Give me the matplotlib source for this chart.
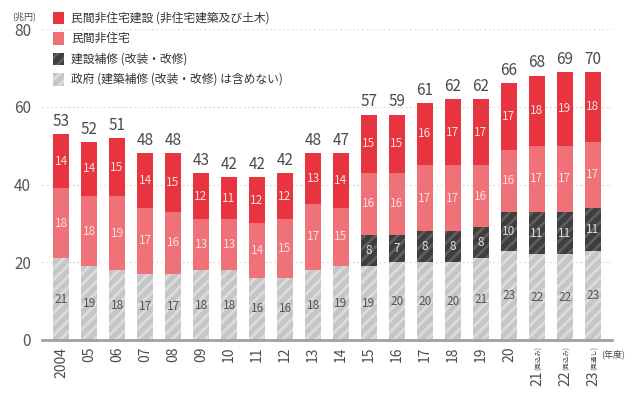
import matplotlib
matplotlib.use("Agg")
import matplotlib.pyplot as plt
from matplotlib.patches import Rectangle

plt.rcParams['font.family'] = ['Noto Sans CJK JP', 'DejaVu Sans']
plt.rcParams['hatch.linewidth'] = 2.0

years = ["2004", "05", "06", "07", "08", "09", "10", "11", "12", "13",
         "14", "15", "16", "17", "18", "19", "20", "21", "22", "23"]
year_notes = ["", "", "", "", "", "", "", "", "", "",
              "", "", "", "", "", "", "", "(見込み)", "(見込み)", "(見通し)"]
gov = [21, 19, 18, 17, 17, 18, 18, 16, 16, 18, 19, 19, 20, 20, 20, 21, 23, 22, 22, 23]
repair = [0, 0, 0, 0, 0, 0, 0, 0, 0, 0, 0, 8, 7, 8, 8, 8, 10, 11, 11, 11]
residential = [18, 18, 19, 17, 16, 13, 13, 14, 15, 17, 15, 16, 16, 17, 17, 16, 16, 17, 17, 17]
nonres = [14, 14, 15, 14, 15, 12, 11, 12, 12, 13, 14, 15, 15, 16, 17, 17, 17, 18, 19, 18]
total_labels = [53, 52, 51, 48, 48, 43, 42, 42, 42, 48, 47, 57, 59, 61, 62, 62, 66, 68, 69, 70]

legend_labels = ["民間非住宅建設 (非住宅建築及び土木)", "民間非住宅",
                 "建設補修 (改装・改修)", "政府 (建築補修 (改装・改修) は含めない)"]

C_NONRES = "#E8343F"
C_RES = "#F07178"
C_REP = "#3E3E3E"
C_REP_H = "#5E5E5E"
C_GOV = "#C6C6C6"
C_GOV_H = "#DCDCDC"
C_TXT = "#4A4A4A"

W, H = 636, 400
fig = plt.figure(figsize=(W / 100, H / 100), dpi=100)
ax = fig.add_axes([42 / W, 1 - 340 / H, (612 - 42) / W, (340 - 29) / H])

x = list(range(len(years)))
bw = 0.57
b1 = [g + r for g, r in zip(gov, repair)]
b2 = [a + r for a, r in zip(b1, residential)]

ax.bar(x, gov, bw, color=C_GOV, edgecolor=C_GOV_H, linewidth=0, hatch='///', zorder=2)
ax.bar(x, repair, bw, bottom=gov, color=C_REP, edgecolor=C_REP_H, linewidth=0, hatch='///', zorder=2)
ax.bar(x, residential, bw, bottom=b1, color=C_RES, linewidth=0, zorder=2)
ax.bar(x, nonres, bw, bottom=b2, color=C_NONRES, linewidth=0, zorder=2)

for i in x:
    ax.text(i, gov[i] / 2, str(gov[i]), ha='center', va='center', fontsize=8.5, color="#555555", zorder=3)
    if repair[i] > 0:
        ax.text(i, gov[i] + repair[i] / 2, str(repair[i]), ha='center', va='center', fontsize=8.5, color="#DDDDDD", zorder=3)
    ax.text(i, b1[i] + residential[i] / 2, str(residential[i]), ha='center', va='center', fontsize=8.5, color="#FBE0E1", zorder=3)
    ax.text(i, b2[i] + nonres[i] / 2, str(nonres[i]), ha='center', va='center', fontsize=8.5, color="#FBE0E1", zorder=3)
    ax.annotate(str(total_labels[i]), (i, b2[i] + nonres[i]), xytext=(0, 3), textcoords='offset points',
                ha='center', va='bottom', fontsize=11, color=C_TXT)

ax.set_xlim(-0.68, len(years) - 1 + 0.68)
ax.set_ylim(0, 80)
ax.set_yticks([0, 20, 40, 60, 80])
ax.set_yticklabels(["0", "20", "40", "60", "80"], fontsize=11, color="#555555")
ax.tick_params(axis='y', length=0, pad=8)
ax.tick_params(axis='x', length=0)
ax.set_xticks(x)
ax.set_xticklabels([])
for v in [20, 40, 60, 80]:
    ax.axhline(v, color="#DDDDDD", linestyle=(0, (1.5, 2)), linewidth=0.9, zorder=1)
for s in ['top', 'right', 'left']:
    ax.spines[s].set_visible(False)
ax.spines['bottom'].set_color("#A0A0A0")
ax.spines['bottom'].set_linewidth(2)
ax.spines['bottom'].set_zorder(4)

# x tick labels, rotated
for i in x:
    if year_notes[i]:
        ax.annotate(year_notes[i], (i, 0), xytext=(1.5, -4.5), textcoords='offset points',
                    rotation=90, ha='center', va='top', fontsize=4.7, color=C_TXT,
                    annotation_clip=False)
        ax.annotate(years[i], (i, 0), xytext=(0, -22), textcoords='offset points',
                    rotation=90, ha='center', va='top', fontsize=10, color=C_TXT,
                    annotation_clip=False)
    else:
        ax.annotate(years[i], (i, 0), xytext=(0, -5), textcoords='offset points',
                    rotation=90, ha='center', va='top', fontsize=10, color=C_TXT,
                    annotation_clip=False)

fig.text(601 / W, 1 - 354 / H, "(年度)", fontsize=6.5, color=C_TXT, ha='left', va='center')
fig.text(36 / W, 1 - 16 / H, "(兆円)", fontsize=6.5, color=C_TXT, ha='right', va='center')

# legend
leg_styles = [(C_NONRES, None, None), (C_RES, None, None), (C_REP, C_REP_H, '///'), (C_GOV, C_GOV_H, '///')]
for k, (lab, (fc, hc, ht)) in enumerate(zip(legend_labels, leg_styles)):
    yc = 18 + k * 20.5
    r = Rectangle((53 / W, 1 - (yc + 6) / H), 11 / W, 12 / H, transform=fig.transFigure,
                  facecolor=fc, edgecolor=hc if hc else fc, linewidth=0, hatch=ht)
    fig.patches.append(r)
    fig.text(71 / W, 1 - yc / H, lab, fontsize=8.5, color="#333333", ha='left', va='center')

fig.savefig("out.png", dpi=100)
